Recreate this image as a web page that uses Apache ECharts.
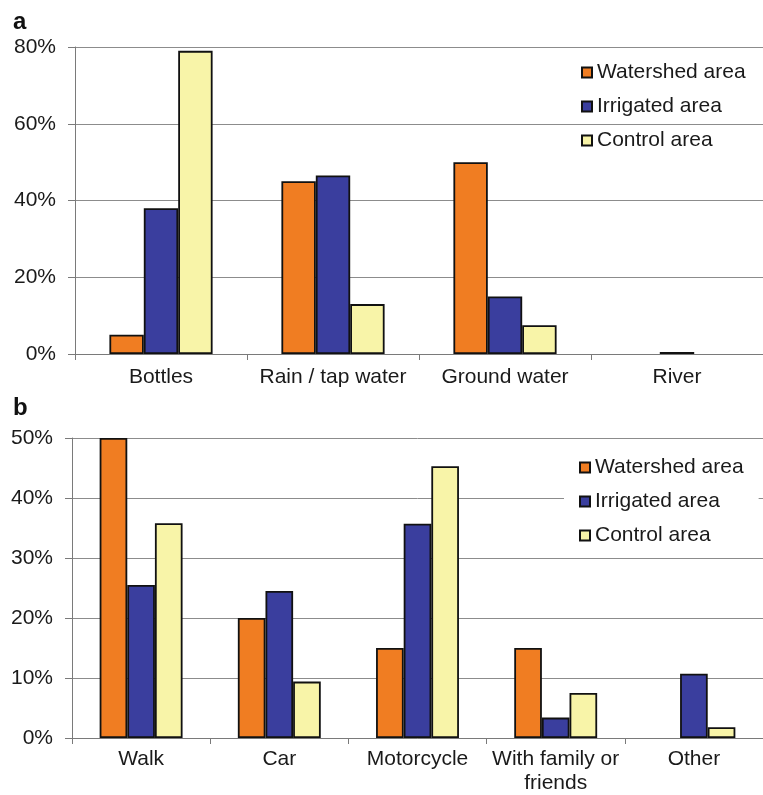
<!DOCTYPE html>
<html>
<head>
<meta charset="utf-8">
<script src="https://cdn.jsdelivr.net/npm/echarts@6/dist/echarts.min.js"></script>
<style>
  html, body { margin: 0; padding: 0; background: #fff; }
  #chart { width: 763px; height: 795px; }
</style>
</head>
<body>
<div id="chart"></div>
<script>
// Panel a: drinking water source
const sourceCategories = ['Bottles', 'Rain / tap water', 'Ground water', 'River'];
const sourceWatershed = [5, 45, 50, null];
const sourceIrrigated = [38, 46.5, 15, 0.5];
const sourceControl = [79, 13, 7.5, null];
const sourceTicks = [0, 20, 40, 60, 80];

// Panel b: transport mode
const transportCategories = ['Walk', 'Car', 'Motorcycle', 'With family or\nfriends', 'Other'];
const transportWatershed = [50, 20, 15, 15, null];
const transportIrrigated = [25.5, 24.5, 35.7, 3.4, 10.7];
const transportControl = [35.8, 9.4, 45.3, 7.5, 1.8];
const transportTicks = [0, 10, 20, 30, 40, 50];

const seriesNames = ['Watershed area', 'Irrigated area', 'Control area'];
const seriesColors = ['#F07D22', '#3A3E9E', '#F8F4A8'];

const FONT = '"Liberation Sans", Arial, sans-serif';
const TEXT = '#1a1a1a';
const GRID_LINE = '#8c8c8c';

function valueAxis(gridIndex, ticks) {
  return {
    type: 'value', gridIndex: gridIndex,
    min: ticks[0], max: ticks[ticks.length - 1],
    interval: ticks[1] - ticks[0],
    axisLine: { show: true, lineStyle: { color: '#7a7a7a', width: 1 } },
    axisTick: { show: true, length: 7, lineStyle: { color: '#7a7a7a' } },
    axisLabel: { formatter: '{value}%', margin: 19, fontSize: 21, color: TEXT, fontFamily: FONT },
    splitLine: { show: true, lineStyle: { color: GRID_LINE, width: 1 } }
  };
}

function categoryAxis(gridIndex, cats, margin) {
  return {
    type: 'category', gridIndex: gridIndex, data: cats,
    axisLine: { show: true, lineStyle: { color: '#7a7a7a', width: 1 } },
    axisTick: { show: true, length: 6, alignWithLabel: false, lineStyle: { color: '#7a7a7a' } },
    axisLabel: { margin: margin, fontSize: 21, lineHeight: 24, color: TEXT, fontFamily: FONT, interval: 0 }
  };
}

function barSeries(gridIndex, values) {
  return values.map((v, i) => ({
    name: seriesNames[i], type: 'bar',
    xAxisIndex: gridIndex, yAxisIndex: gridIndex,
    data: v,
    barGap: '0%', barCategoryGap: '40%',
    itemStyle: { color: seriesColors[i], borderColor: '#111', borderWidth: 1.8 },
    emphasis: { disabled: true },
    animation: false
  }));
}

function legend(left, top, withBackground) {
  return {
    data: seriesNames, orient: 'vertical', left: left, top: top,
    icon: 'rect', itemWidth: 10, itemHeight: 10, itemGap: 13,
    padding: withBackground ? [5, 15, 5, 15] : 0,
    backgroundColor: withBackground ? '#fff' : 'transparent',
    textStyle: { fontSize: 21, lineHeight: 21, color: TEXT, fontFamily: FONT },
    selectedMode: false
  };
}

const chart = echarts.init(document.getElementById('chart'));
chart.setOption({
  backgroundColor: '#fff',
  animation: false,
  title: [
    { text: 'a', left: 8, top: 5, textStyle: { fontSize: 24, fontWeight: 'bold', color: '#111', fontFamily: FONT } },
    { text: 'b', left: 8, top: 391, textStyle: { fontSize: 24, fontWeight: 'bold', color: '#111', fontFamily: FONT } }
  ],
  grid: [
    { left: 75, top: 47, height: 307, right: -6 },
    { left: 72, top: 438, height: 302.5, right: -6 }
  ],
  legend: [legend(581, 62, false), legend(564, 452, true)],
  xAxis: [categoryAxis(0, sourceCategories, 11), categoryAxis(1, transportCategories, 9)],
  yAxis: [valueAxis(0, sourceTicks), valueAxis(1, transportTicks)],
  series: [
    ...barSeries(0, [sourceWatershed, sourceIrrigated, sourceControl]),
    ...barSeries(1, [transportWatershed, transportIrrigated, transportControl])
  ]
});
</script>
</body>
</html>
